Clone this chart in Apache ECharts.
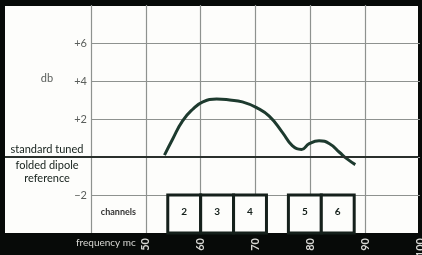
<!DOCTYPE html>
<html>
<head>
<meta charset="utf-8">
<script src="https://cdn.jsdelivr.net/npm/echarts@6/dist/echarts.min.js"></script>
<style>
  html, body { margin: 0; padding: 0; background: #070a08; }
  #paper { position: absolute; left: 5px; top: 6px; width: 413px; height: 227px; background: #fdfdfb; }
  #main { position: absolute; left: 0; top: 0; width: 422px; height: 255px; }
</style>
</head>
<body>
<div id="paper"></div>
<div id="main"></div>
<script>
// response curve
var freq = [53.4, 54.9, 56.7, 58.5, 60.4, 62.9, 65.3, 67.6, 70.2, 72.5, 74.9, 76.7, 78.4, 79.8, 81.6, 83.5, 85.3, 86.7, 88.2];
var db   = [0.1, 0.95, 1.9, 2.5, 2.9, 3.05, 3.0, 2.9, 2.6, 2.15, 1.3, 0.6, 0.4, 0.7, 0.85, 0.7, 0.25, -0.1, -0.4];

// tv channel bands (mc)
var channels = ['2', '3', '4', '5', '6'];
var chanLow  = [54, 60, 66, 76, 82];
var chanHigh = [60, 66, 72, 82, 88];

var yTickLabels = { '6': '+6', '4': '+4', '2': '+2', '-2': '\u22122' };
var xTickLabels = ['50', '60', '70', '80', '90', '100'];

var font = 'Lato, "DejaVu Sans", sans-serif';
var ink = '#15201b';

var myChart = echarts.init(document.getElementById('main'));

var boxData = channels.map(function (c, i) {
  return [chanLow[i], chanHigh[i], -2, -4, c];
});

var option = {
  backgroundColor: 'transparent',
  animation: false,
  grid: { left: 91, right: 2, top: 5, height: 228, outerBoundsMode: 'none', containLabel: false },
  xAxis: {
    type: 'value', min: 40, max: 100, interval: 10,
    axisLine: { show: false }, axisTick: { show: false },
    splitLine: { show: true, showMaxLine: false, lineStyle: { color: '#8e928f', width: 1.2 } },
    axisLabel: {
      rotate: 90, margin: 5, color: '#d8d8d4', fontSize: 11, fontWeight: 'bold', fontFamily: font,
      formatter: function (v) { return xTickLabels.indexOf(String(v)) >= 0 ? String(v) : ''; }
    }
  },
  yAxis: {
    type: 'value', min: -4, max: 8, interval: 2,
    axisLine: { show: false }, axisTick: { show: false },
    splitLine: { show: true, showMinLine: false, showMaxLine: false, lineStyle: { color: '#8e928f', width: 1.2 } },
    axisLabel: {
      margin: 4, color: '#5a5e5b', fontSize: 11, fontFamily: font,
      formatter: function (v) { return yTickLabels[String(v)] || ''; }
    }
  },
  series: [
    {
      type: 'custom',
      data: boxData,
      z: 3,
      renderItem: function (params, api) {
        var p0 = api.coord([api.value(0), api.value(2)]);
        var p1 = api.coord([api.value(1), api.value(3)]);
        return {
          type: 'group',
          children: [
            { type: 'rect', shape: { x: p0[0], y: p0[1], width: p1[0] - p0[0], height: p1[1] - p0[1] },
              style: { fill: '#fdfdfb', stroke: ink, lineWidth: 3 } },
            { type: 'text', style: { text: api.value(4), x: (p0[0] + p1[0]) / 2, y: (p0[1] + p1[1]) / 2 - 2,
              align: 'center', verticalAlign: 'middle', fill: ink, font: 'bold 10px ' + font } }
          ]
        };
      }
    },
    {
      type: 'line',
      data: freq.map(function (f, i) { return [f, db[i]]; }),
      smooth: 0.5,
      showSymbol: false,
      z: 4,
      lineStyle: { color: '#1d3a2e', width: 3 }
    }
  ]
};

myChart.setOption(option);

// pieces that sit outside the plotted marks
var y0 = myChart.convertToPixel({ yAxisIndex: 0 }, 0);
var y4 = myChart.convertToPixel({ yAxisIndex: 0 }, 4);
var yBox = myChart.convertToPixel({ yAxisIndex: 0 }, -3);
var xCh = myChart.convertToPixel({ xAxisIndex: 0 }, 45);
var x50 = myChart.convertToPixel({ xAxisIndex: 0 }, 50);

myChart.setOption({
  graphic: [
    { type: 'line', shape: { x1: 5, y1: y0, x2: 418, y2: y0 }, style: { stroke: '#2a302c', lineWidth: 2 }, z: 5 },
    { type: 'text', x: 47, y: y4 - 3, style: { text: 'db', align: 'center', verticalAlign: 'middle', fill: '#5a5e5b', font: '11px ' + font } },
    { type: 'text', x: 47, y: y0 - 8, style: { text: 'standard tuned', align: 'center', verticalAlign: 'middle', fill: ink, font: '11px ' + font } },
    { type: 'text', x: 47, y: y0 + 8, style: { text: 'folded dipole', align: 'center', verticalAlign: 'middle', fill: ink, font: '11px ' + font } },
    { type: 'text', x: 47, y: y0 + 21, style: { text: 'reference', align: 'center', verticalAlign: 'middle', fill: ink, font: '11px ' + font } },
    { type: 'text', x: xCh, y: yBox - 2, style: { text: 'channels', align: 'center', verticalAlign: 'middle', fill: '#333', font: 'bold 9px ' + font } },
    { type: 'text', x: x50 - 10, y: 243, style: { text: 'frequency mc', align: 'right', verticalAlign: 'middle', fill: '#d8d8d4', font: '10px ' + font } }
  ]
});
</script>
</body>
</html>
